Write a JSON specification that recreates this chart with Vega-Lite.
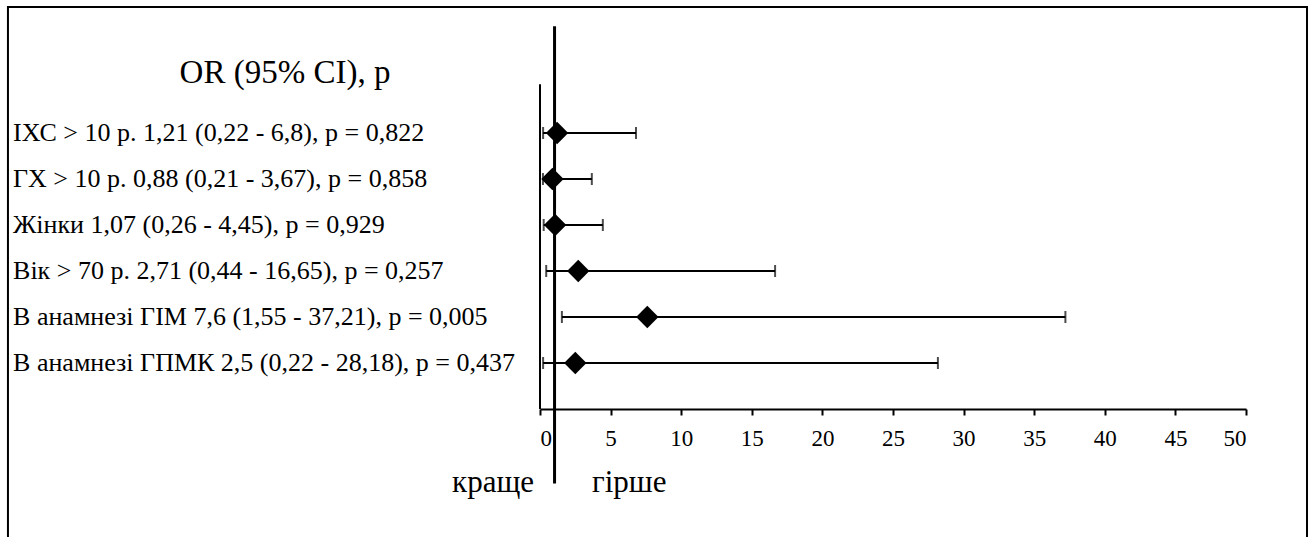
{
  "$schema": "https://vega.github.io/schema/vega-lite/v6.json",
  "width": 1301,
  "height": 532,
  "padding": {"left": 6, "top": 5, "right": 2, "bottom": 0},
  "autosize": {"type": "pad"},
  "background": "white",
  "config": {
    "view": {"stroke": null},
    "font": "Liberation Serif",
    "axisX": {
      "grid": false, "domainColor": "black", "domainWidth": 2,
      "tickColor": "black", "tickWidth": 2, "tickSize": 6,
      "labelFont": "Liberation Serif", "labelFontSize": 23, "labelColor": "black",
      "labelPadding": 12
    }
  },
  "datasets": {
    "rows": [
      {"row": 0, "label": "ІХС > 10 р. 1,21 (0,22 - 6,8), р = 0,822", "or": 1.21, "lo": 0.22, "hi": 6.8},
      {"row": 1, "label": "ГХ > 10 р. 0,88 (0,21 - 3,67), р = 0,858", "or": 0.88, "lo": 0.21, "hi": 3.67},
      {"row": 2, "label": "Жінки 1,07 (0,26 - 4,45), р = 0,929", "or": 1.07, "lo": 0.26, "hi": 4.45},
      {"row": 3, "label": "Вік > 70 р. 2,71 (0,44 - 16,65), р = 0,257", "or": 2.71, "lo": 0.44, "hi": 16.65},
      {"row": 4, "label": "В анамнезі ГІМ 7,6 (1,55 - 37,21), р = 0,005", "or": 7.6, "lo": 1.55, "hi": 37.21},
      {"row": 5, "label": "В анамнезі ГПМК 2,5 (0,22 - 28,18), р = 0,437", "or": 2.5, "lo": 0.22, "hi": 28.18}
    ],
    "frame": [
      {"x": -37.68, "x2": -37.68, "y": -2.76, "y2": 8.8},
      {"x": 54.32, "x2": 54.32, "y": -2.76, "y2": 8.8},
      {"x": -37.68, "x2": 54.32, "y": -2.74, "y2": -2.74}
    ],
    "refs": [
      {"x": 1.03, "y": -2.32, "y2": 7.62}
    ],
    "zero": [
      {"x": 0, "y": -1.06, "y2": 6.0}
    ],
    "title": [{"text": "OR (95% CI), p", "x": -18.06, "y": -1.3}],
    "left": [{"text": "краще", "x": -0.42, "y": 7.6}],
    "right": [{"text": "гірше", "x": 3.68, "y": 7.6}]
  },
  "layer": [
    {
      "data": {"name": "rows"},
      "mark": {"type": "rule", "color": "black", "strokeWidth": 2},
      "encoding": {
        "x": {
          "field": "lo", "type": "quantitative",
          "scale": {"domain": [0, 50], "range": [533, 1239], "nice": false, "zero": false},
          "axis": {"title": null, "values": [0, 5, 10, 15, 20, 25, 30, 35, 40, 45, 50], "offset": -129, "labelFontSize": 23, "labelFont": "Liberation Serif", "labelPadding": 12, "labelColor": "black"}
        },
        "x2": {"field": "hi"},
        "y": {
          "field": "row", "type": "quantitative",
          "scale": {"domain": [0, 5], "range": [127, 357], "nice": false, "zero": false},
          "axis": null
        }
      }
    },
    {
      "data": {"name": "frame"},
      "mark": {"type": "rule", "color": "black", "strokeWidth": 2},
      "encoding": {
        "x": {"field": "x", "type": "quantitative", "axis": {"title": null, "values": [0, 5, 10, 15, 20, 25, 30, 35, 40, 45, 50], "offset": -129, "labelFontSize": 23, "labelFont": "Liberation Serif", "labelPadding": 12, "labelColor": "black"}},
        "x2": {"field": "x2"},
        "y": {"field": "y", "type": "quantitative", "axis": null},
        "y2": {"field": "y2"}
      }
    },
    {
      "data": {"name": "refs"},
      "mark": {"type": "rule", "color": "black", "strokeWidth": 3},
      "encoding": {
        "x": {"field": "x", "type": "quantitative", "axis": {"title": null, "values": [0, 5, 10, 15, 20, 25, 30, 35, 40, 45, 50], "offset": -129, "labelFontSize": 23, "labelFont": "Liberation Serif", "labelPadding": 12, "labelColor": "black"}},
        "y": {"field": "y", "type": "quantitative", "axis": null},
        "y2": {"field": "y2"}
      }
    },
    {
      "data": {"name": "zero"},
      "mark": {"type": "rule", "color": "black", "strokeWidth": 2},
      "encoding": {
        "x": {"field": "x", "type": "quantitative", "axis": {"title": null, "values": [0, 5, 10, 15, 20, 25, 30, 35, 40, 45, 50], "offset": -129, "labelFontSize": 23, "labelFont": "Liberation Serif", "labelPadding": 12, "labelColor": "black"}},
        "y": {"field": "y", "type": "quantitative", "axis": null},
        "y2": {"field": "y2"}
      }
    },
    {
      "data": {"name": "rows"},
      "mark": {"type": "tick", "color": "black", "orient": "vertical", "size": 12, "thickness": 2},
      "encoding": {
        "x": {"field": "lo", "type": "quantitative", "axis": {"title": null, "values": [0, 5, 10, 15, 20, 25, 30, 35, 40, 45, 50], "offset": -129, "labelFontSize": 23, "labelFont": "Liberation Serif", "labelPadding": 12, "labelColor": "black"}},
        "y": {"field": "row", "type": "quantitative", "axis": null}
      }
    },
    {
      "data": {"name": "rows"},
      "mark": {"type": "tick", "color": "black", "orient": "vertical", "size": 12, "thickness": 2},
      "encoding": {
        "x": {"field": "hi", "type": "quantitative", "axis": {"title": null, "values": [0, 5, 10, 15, 20, 25, 30, 35, 40, 45, 50], "offset": -129, "labelFontSize": 23, "labelFont": "Liberation Serif", "labelPadding": 12, "labelColor": "black"}},
        "y": {"field": "row", "type": "quantitative", "axis": null}
      }
    },
    {
      "data": {"name": "rows"},
      "mark": {"type": "point", "shape": "diamond", "filled": true, "color": "black", "opacity": 1, "size": 500},
      "encoding": {
        "x": {"field": "or", "type": "quantitative", "axis": {"title": null, "values": [0, 5, 10, 15, 20, 25, 30, 35, 40, 45, 50], "offset": -129, "labelFontSize": 23, "labelFont": "Liberation Serif", "labelPadding": 12, "labelColor": "black"}},
        "y": {"field": "row", "type": "quantitative", "axis": null}
      }
    },
    {
      "data": {"name": "rows"},
      "mark": {"type": "text", "align": "left", "baseline": "middle", "font": "Liberation Serif", "fontSize": 26, "color": "black"},
      "encoding": {
        "x": {"datum": -37.32, "type": "quantitative", "axis": {"title": null, "values": [0, 5, 10, 15, 20, 25, 30, 35, 40, 45, 50], "offset": -129, "labelFontSize": 23, "labelFont": "Liberation Serif", "labelPadding": 12, "labelColor": "black"}},
        "y": {"field": "row", "type": "quantitative", "axis": null},
        "text": {"field": "label"}
      }
    },
    {
      "data": {"name": "title"},
      "mark": {"type": "text", "align": "center", "baseline": "middle", "font": "Liberation Serif", "fontSize": 33, "color": "black"},
      "encoding": {
        "x": {"field": "x", "type": "quantitative", "axis": {"title": null, "values": [0, 5, 10, 15, 20, 25, 30, 35, 40, 45, 50], "offset": -129, "labelFontSize": 23, "labelFont": "Liberation Serif", "labelPadding": 12, "labelColor": "black"}},
        "y": {"field": "y", "type": "quantitative", "axis": null},
        "text": {"field": "text"}
      }
    },
    {
      "data": {"name": "left"},
      "mark": {"type": "text", "align": "right", "baseline": "middle", "font": "Liberation Serif", "fontSize": 31, "color": "black"},
      "encoding": {
        "x": {"field": "x", "type": "quantitative", "axis": {"title": null, "values": [0, 5, 10, 15, 20, 25, 30, 35, 40, 45, 50], "offset": -129, "labelFontSize": 23, "labelFont": "Liberation Serif", "labelPadding": 12, "labelColor": "black"}},
        "y": {"field": "y", "type": "quantitative", "axis": null},
        "text": {"field": "text"}
      }
    },
    {
      "data": {"name": "right"},
      "mark": {"type": "text", "align": "left", "baseline": "middle", "font": "Liberation Serif", "fontSize": 31, "color": "black"},
      "encoding": {
        "x": {"field": "x", "type": "quantitative", "axis": {"title": null, "values": [0, 5, 10, 15, 20, 25, 30, 35, 40, 45, 50], "offset": -129, "labelFontSize": 23, "labelFont": "Liberation Serif", "labelPadding": 12, "labelColor": "black"}},
        "y": {"field": "y", "type": "quantitative", "axis": null},
        "text": {"field": "text"}
      }
    }
  ]
}
